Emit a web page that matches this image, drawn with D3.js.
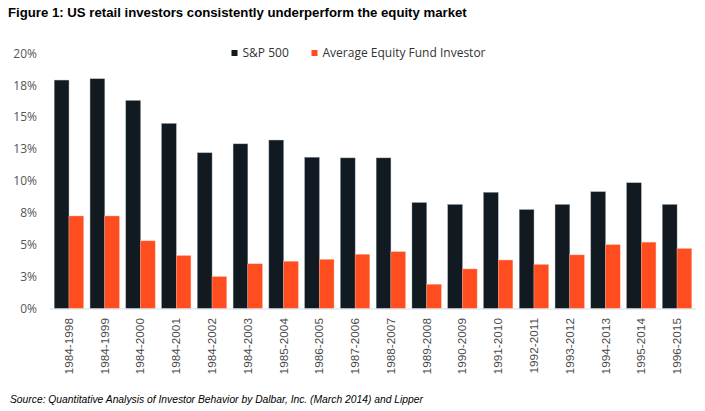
<!DOCTYPE html>
<html>
<head>
<meta charset="utf-8">
<script src="https://cdn.jsdelivr.net/npm/d3@7"></script>
<style>
  body { margin: 0; background: #fff; }
  svg { display: block; }
</style>
</head>
<body>
<div id="chart"></div>
<script>
var periods = ['1984-1998', '1984-1999', '1984-2000', '1984-2001', '1984-2002', '1984-2003',
  '1985-2004', '1986-2005', '1987-2006', '1988-2007', '1989-2008', '1990-2009',
  '1991-2010', '1992-2011', '1993-2012', '1994-2013', '1995-2014', '1996-2015'];
var sp500 = [17.9, 18.0, 16.3, 14.5, 12.2, 12.9, 13.2, 11.85, 11.8, 11.8, 8.3, 8.15,
  9.1, 7.75, 8.15, 9.15, 9.85, 8.15];
var investor = [7.25, 7.25, 5.3, 4.15, 2.5, 3.5, 3.7, 3.85, 4.25, 4.45, 1.9, 3.1,
  3.8, 3.45, 4.2, 5.0, 5.2, 4.7];
var seriesNames = ['S&P 500', 'Average Equity Fund Investor'];
var yTicks = [0, 2.5, 5, 7.5, 10, 12.5, 15, 17.5, 20];

var w = 705, h = 411;
var colors = ['#111a21', '#ff4d1f'];

var svg = d3.select('#chart').append('svg')
  .attr('width', w)
  .attr('height', h);

var x0 = d3.scaleBand()
  .domain(periods)
  .range([50, 696])
  .paddingInner(0.18)
  .paddingOuter(0.12);

var x1 = d3.scaleBand()
  .domain([0, 1])
  .range([0, x0.bandwidth()]);

var y = d3.scaleLinear()
  .domain([0, 20])
  .range([308.5, 53.3]);

// title
svg.append('text')
  .attr('x', 8)
  .attr('y', 16.5)
  .attr('font-family', '"Liberation Sans Narrow", "Arial Narrow", sans-serif')
  .attr('font-weight', 'bold')
  .attr('font-size', '13.2px')
  .attr('fill', '#000')
  .text('Figure 1: US retail investors consistently underperform the equity market');

// bars
var rows = periods.map(function(p, i) {
  return { period: p, values: [sp500[i], investor[i]] };
});

var groups = svg.selectAll('g.grp')
  .data(rows)
  .enter()
  .append('g')
  .attr('class', 'grp')
  .attr('transform', function(d) { return 'translate(' + x0(d.period) + ',0)'; });

groups.selectAll('rect')
  .data(function(d) { return d.values.map(function(v, k) { return { k: k, v: v }; }); })
  .enter()
  .append('rect')
  .attr('x', function(d) { return x1(d.k); })
  .attr('width', x1.bandwidth())
  .attr('y', function(d) { return y(d.v); })
  .attr('height', function(d) { return y(0) - y(d.v); })
  .attr('fill', function(d) { return colors[d.k]; })
  .attr('stroke', function(d) { return d.k === 0 ? '#8a949c' : '#ffb49c'; })
  .attr('stroke-width', 0.4);

// x axis line
svg.append('line')
  .attr('x1', 50).attr('x2', 696)
  .attr('y1', y(0) + 0.5).attr('y2', y(0) + 0.5)
  .attr('stroke', '#d5dee8')
  .attr('stroke-width', 1.2);

// x labels
svg.selectAll('text.xl')
  .data(periods)
  .enter()
  .append('text')
  .attr('class', 'xl')
  .attr('transform', function(d) {
    return 'translate(' + (x0(d) + x0.bandwidth() / 2 + 4) + ',318) rotate(-90)';
  })
  .attr('text-anchor', 'end')
  .attr('font-family', '"Liberation Sans", Arial, sans-serif')
  .attr('font-size', '11.8px')
  .attr('fill', '#4a4a4a')
  .text(function(d) { return d; });

// y axis
var yAxis = d3.axisLeft(y)
  .tickValues(yTicks)
  .tickSize(0)
  .tickPadding(0)
  .tickFormat(function(n) { return Math.round(n) + '%'; });

var ya = svg.append('g')
  .attr('transform', 'translate(37,0)')
  .call(yAxis);
ya.select('.domain').remove();
ya.selectAll('text')
  .attr('font-family', '"Open Sans", sans-serif')
  .attr('font-size', '12px')
  .attr('fill', '#555');

// legend
var legX = [231.5, 311.5];
var leg = svg.selectAll('g.leg')
  .data(seriesNames)
  .enter()
  .append('g')
  .attr('class', 'leg')
  .attr('transform', function(d, i) { return 'translate(' + legX[i] + ',53)'; });
leg.append('rect')
  .attr('x', 0).attr('y', -3)
  .attr('width', 6).attr('height', 6)
  .attr('fill', function(d, i) { return colors[i]; });
leg.append('text')
  .attr('x', 11)
  .attr('dy', '0.35em')
  .attr('font-family', '"Open Sans", sans-serif')
  .attr('font-size', '12px')
  .attr('fill', '#333')
  .text(function(d) { return d; });

// source
svg.append('text')
  .attr('x', 10)
  .attr('y', 403)
  .attr('font-family', '"Liberation Sans", Arial, sans-serif')
  .attr('font-style', 'italic')
  .attr('font-size', '10.3px')
  .attr('fill', '#000')
  .text('Source: Quantitative Analysis of Investor Behavior by Dalbar, Inc. (March 2014) and Lipper');
</script>
</body>
</html>
